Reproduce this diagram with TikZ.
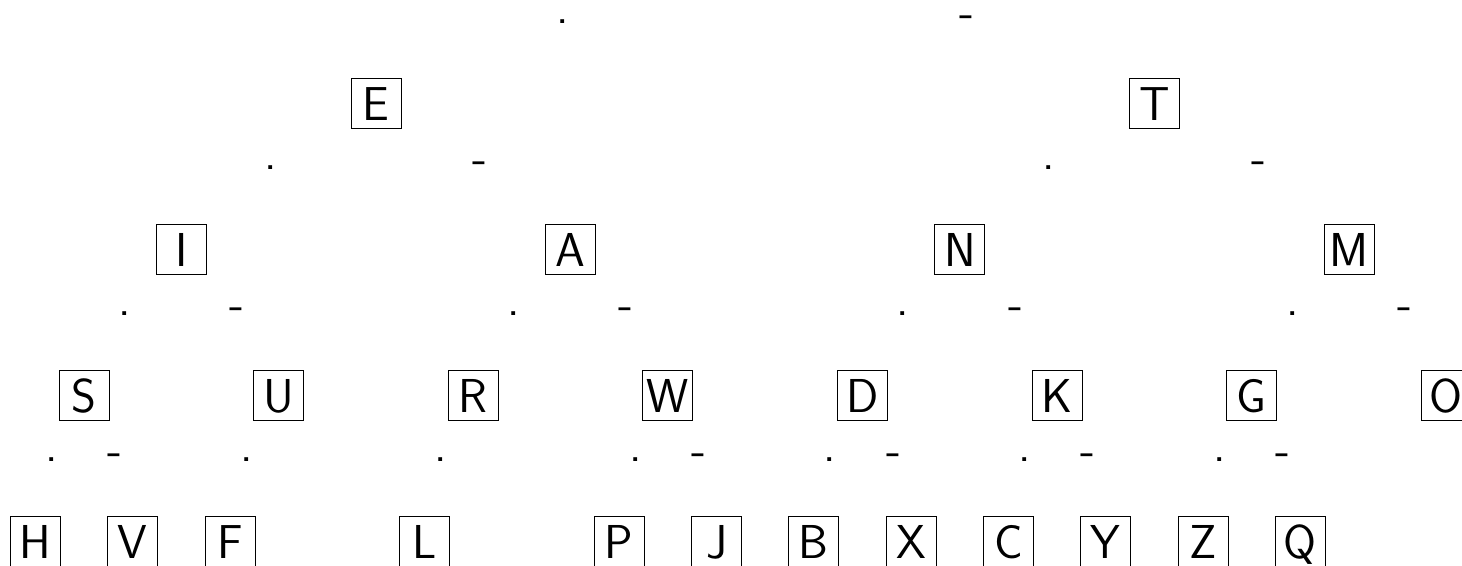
\documentclass[tikz,border=0pt]{standalone}
\usetikzlibrary{calc}
\newcommand\dotlabel[3]{\node[lbl] (#3) at ($(#1)!0.5!(#2)+(-8,-9)$) {.};}
\newcommand\dashlabel[3]{\node[lbl] (#3) at ($(#1)!0.5!(#2)+(7,-9)$) {-};}
\begin{document}
\begin{tikzpicture}[x=0.5pt,y=-0.5pt,
  font=\fontsize{23.8}{28}\selectfont\sffamily,
  letter/.style={draw, line width=0.5pt, minimum size=25pt, inner sep=0pt, text height=16.5pt, text depth=0pt},
  lbl/.style={inner sep=0pt}]
\useasboundingbox (0,0) rectangle (1462,566);
\clip (0,0) rectangle (1462,566);
\coordinate (root) at (765.2,-42);
% level 1
\node[letter] (E) at (376,104) {E};
\node[letter] (T) at (1154.4,104) {T};
% level 2
\node[letter] (I) at (181.4,250) {I};
\node[letter] (A) at (570.6,250) {A};
\node[letter] (N) at (959.8,250) {N};
\node[letter] (M) at (1349,250) {M};
% level 3
\node[letter] (S) at (84.1,396) {S};
\node[letter] (U) at (278.7,396) {U};
\node[letter] (R) at (473.3,396) {R};
\node[letter] (W) at (667.9,396) {W};
\node[letter] (D) at (862.5,396) {D};
\node[letter] (K) at (1057.1,396) {K};
\node[letter] (G) at (1251.7,396) {G};
\node[letter] (O) at (1446.3,396) {O};
% level 4
\node[letter] (H) at (35.45,542) {H};
\node[letter] (V) at (132.75,542) {V};
\node[letter] (F) at (230.05,542) {F};
\node[letter] (L) at (424.65,542) {L};
\node[letter] (P) at (619.25,542) {P};
\node[letter] (J) at (716.55,542) {J};
\node[letter] (B) at (813.85,542) {B};
\node[letter] (X) at (911.15,542) {X};
\node[letter] (C) at (1008.45,542) {C};
\node[letter] (Y) at (1105.75,542) {Y};
\node[letter] (Z) at (1203.05,542) {Z};
\node[letter] (Q) at (1300.35,542) {Q};
% edge labels
\dotlabel{root}{E}{lE}
\dashlabel{root}{T}{lT}
\dotlabel{E}{I}{lI}
\dashlabel{E}{A}{lA}
\dotlabel{T}{N}{lN}
\dashlabel{T}{M}{lM}
\dotlabel{I}{S}{lS}
\dashlabel{I}{U}{lU}
\dotlabel{A}{R}{lR}
\dashlabel{A}{W}{lW}
\dotlabel{N}{D}{lD}
\dashlabel{N}{K}{lK}
\dotlabel{M}{G}{lG}
\dashlabel{M}{O}{lO}
\dotlabel{S}{H}{lH}
\dashlabel{S}{V}{lV}
\dotlabel{U}{F}{lF}
\dotlabel{R}{L}{lL}
\dotlabel{W}{P}{lP}
\dashlabel{W}{J}{lJ}
\dotlabel{D}{B}{lB}
\dashlabel{D}{X}{lX}
\dotlabel{K}{C}{lC}
\dashlabel{K}{Y}{lY}
\dotlabel{G}{Z}{lZ}
\dashlabel{G}{Q}{lQ}
\end{tikzpicture}
\end{document}
